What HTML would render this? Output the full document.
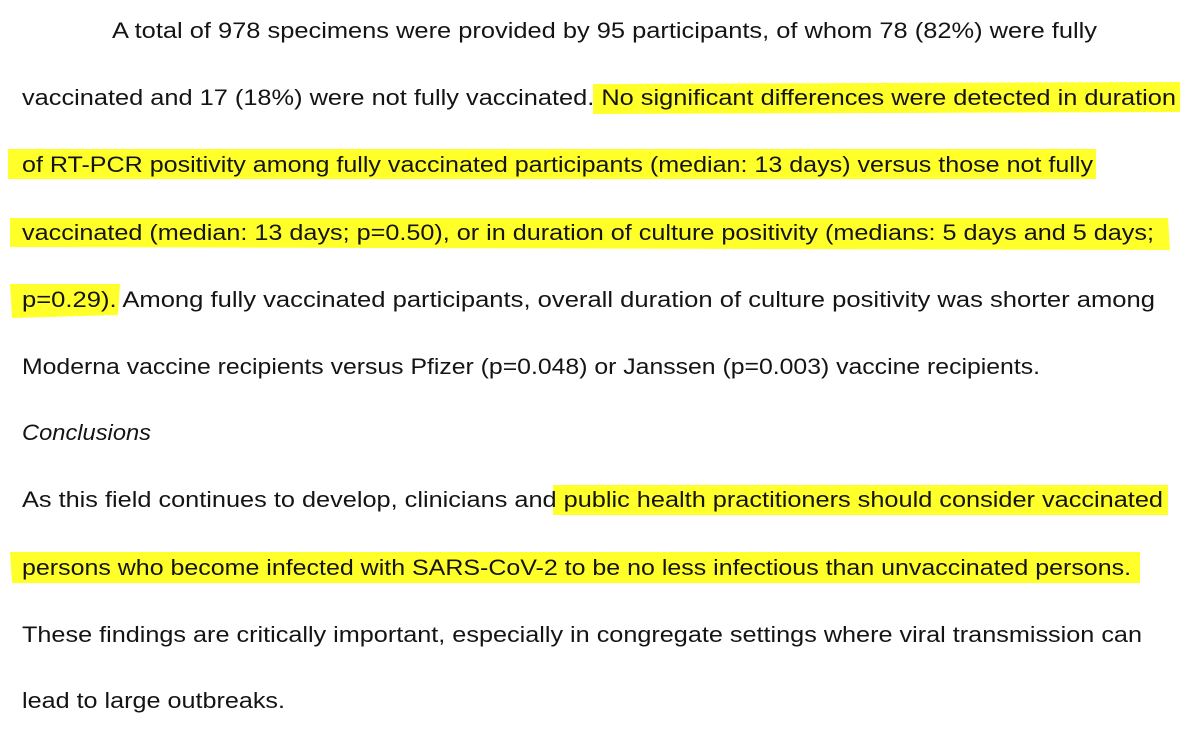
<!DOCTYPE html>
<html><head><meta charset="utf-8"><style>
body{margin:0;background:#fff;width:1200px;height:731px;overflow:hidden}
svg{display:block}
text{font-family:"Liberation Sans",sans-serif;font-size:22px;fill:#141414}
</style></head><body>
<svg width="1200" height="731">
<g fill="#ffff2a">
<polygon points="593,84 1180,82 1180,112 593,114"/>
<rect x="8" y="149" width="1088" height="30"/>
<polygon points="10,218 1168,218 1170,250 10,247"/>
<polygon points="10,284 120,284 118,315 12,318"/>
<rect x="553" y="485" width="615" height="30"/>
<polygon points="10,552 1140,552 1140,583 12,583"/>
</g>
<g>
<text x="112" y="38" textLength="985" lengthAdjust="spacingAndGlyphs">A total of 978 specimens were provided by 95 participants, of whom 78 (82%) were fully</text>
<text x="22" y="105" textLength="1154" lengthAdjust="spacingAndGlyphs">vaccinated and 17 (18%) were not fully vaccinated. No significant differences were detected in duration</text>
<text x="22" y="172" textLength="1071" lengthAdjust="spacingAndGlyphs">of RT-PCR positivity among fully vaccinated participants (median: 13 days) versus those not fully</text>
<text x="22" y="240" textLength="1132" lengthAdjust="spacingAndGlyphs">vaccinated (median: 13 days; p=0.50), or in duration of culture positivity (medians: 5 days and 5 days;</text>
<text x="22" y="307" textLength="1133" lengthAdjust="spacingAndGlyphs">p=0.29). Among fully vaccinated participants, overall duration of culture positivity was shorter among</text>
<text x="22" y="374" textLength="1018" lengthAdjust="spacingAndGlyphs">Moderna vaccine recipients versus Pfizer (p=0.048) or Janssen (p=0.003) vaccine recipients.</text>
<text x="22" y="440" font-style="italic" textLength="129" lengthAdjust="spacingAndGlyphs">Conclusions</text>
<text x="22" y="507" textLength="1141" lengthAdjust="spacingAndGlyphs">As this field continues to develop, clinicians and public health practitioners should consider vaccinated</text>
<text x="22" y="575" textLength="1109" lengthAdjust="spacingAndGlyphs">persons who become infected with SARS-CoV-2 to be no less infectious than unvaccinated persons.</text>
<text x="22" y="642" textLength="1120" lengthAdjust="spacingAndGlyphs">These findings are critically important, especially in congregate settings where viral transmission can</text>
<text x="22" y="708" textLength="263" lengthAdjust="spacingAndGlyphs">lead to large outbreaks.</text>
</g>
</svg>
</body></html>
